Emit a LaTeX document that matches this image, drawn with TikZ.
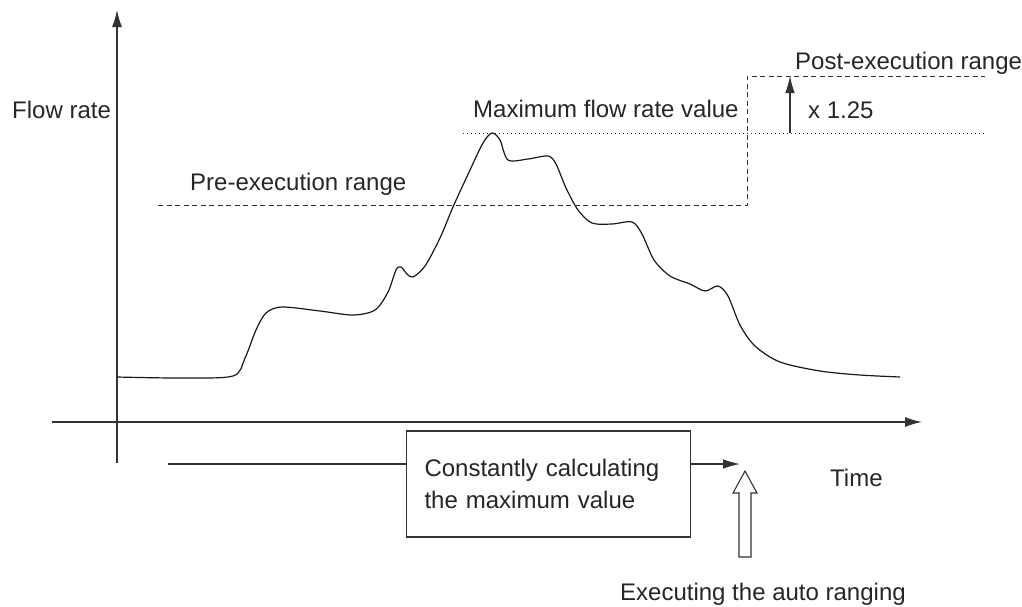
\documentclass[tikz,border=0pt]{standalone}
\usepackage{fontspec}
\setmainfont{Liberation Sans}
\usepackage{tikz}
\usetikzlibrary{arrows.meta,positioning}

\begin{document}
\begin{tikzpicture}[
    x=1pt, y=-1pt,
    every node/.style={font=\fontsize{24}{32}\selectfont, text=black!85, inner sep=0pt},
    axisline/.style={line width=1.3pt, black!80, -{Latex[length=17pt,width=10pt]}},
    arr/.style={line width=1.1pt, black!80, -{Latex[length=17pt,width=9.5pt]}},
    rangeline/.style={line width=1pt, black!80, dash pattern=on 5pt off 3.5pt},
    maxline/.style={line width=1pt, black!80, dash pattern=on 1.2pt off 2.8pt},
    flowcurve/.style={line width=1.2pt, black!90},
    calcbox/.style={
      rectangle, draw=black!80, line width=1.2pt, fill=white,
      text width=248pt, inner xsep=18pt, minimum height=106pt, align=left
    },
    hollowarr/.style={draw=black!80, line width=1.1pt, fill=white}
  ]
    \useasboundingbox (0,0) rectangle (1022,606);

    % Axes
    \coordinate (xstart) at (52,422);
    \coordinate (xend) at (922,422);
    \coordinate (ystart) at (117,463);
    \coordinate (yend) at (117,10);
    \draw[axisline] (xstart) -- (xend);
    \draw[axisline] (ystart) -- (yend);
    \node[anchor=base west] (flowlbl) at (12,118) {Flow rate};
    \node[anchor=base west] (timelbl) at (830,486) {Time};

    % Flow rate curve
    \draw[flowcurve] plot[smooth, tension=0.5] coordinates {
      (117,377) (180,378) (233,376) (245,358) (256,330) (266,313) (282,307)
      (320,311) (353,315) (375,310) (388,292) (396,270) (401,267) (407,274)
      (413,277) (425,266) (440,238) (453,207) (470,170) (483,143) (492,133)
      (500,140) (508,160) (528,159) (548,156) (556,164) (566,188) (578,210)
      (592,223) (612,224) (632,222) (642,234) (654,260) (670,276) (690,284)
      (705,291) (718,286) (728,296) (740,325) (755,346) (780,362) (820,371)
      (860,375) (900,377)
    };

    % Ranges
    \coordinate (prestart) at (158,205);
    \coordinate (switch) at (747,205);
    \coordinate (postend) at (985,76);
    \coordinate (maxstart) at (463,133);
    \coordinate (maxend) at (985,133);
    \coordinate (factor) at (790,133);
    \draw[rangeline] (prestart) -- (switch) |- (postend);
    \draw[maxline] (maxstart) -- (maxend);
    \draw[arr] (factor) -- (factor |- postend);
    \node[anchor=base west] (prelbl) at (190,190) {Pre-execution range};
    \node[anchor=base west] (maxlbl) at (473,117) {Maximum flow rate value};
    \node[anchor=base west] (factorlbl) at (808,118) {x 1.25};
    \node[anchor=base west] (postlbl) at (795,69) {Post-execution range};

    % Calculation period
    \node[calcbox] (calc) at (548.5,484) {Constantly calculating\\the maximum value};
    \coordinate (calcstart) at (168,464);
    \coordinate (calcend) at (740,464);
    \draw[line width=1.1pt, black!80] (calcstart) -- (calc.west |- calcstart);
    \draw[arr] (calc.east |- calcend) -- (calcend);

    % Auto ranging
    \coordinate (autotip) at (745,471);
    \draw[hollowarr] (autotip) -- ++(12,22) -- ++(-6,0) -- ++(0,64) -- ++(-12,0)
      -- ++(0,-64) -- ++(-6,0) -- cycle;
    \node[anchor=base west] (autolbl) at (620,600) {Executing the auto ranging};

  \end{tikzpicture}
\end{document}
